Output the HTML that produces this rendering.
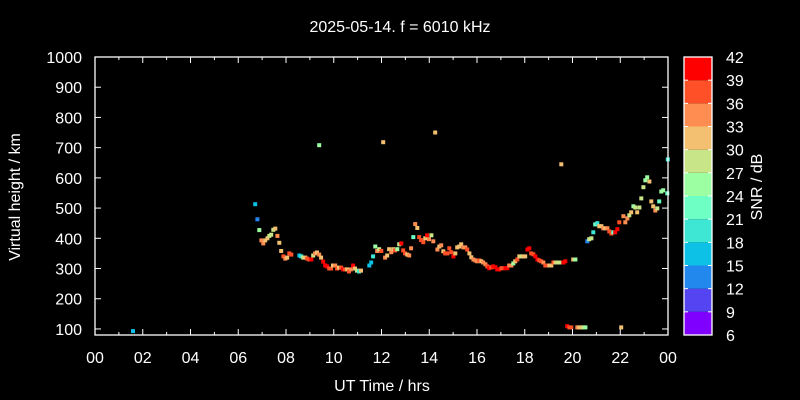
<!DOCTYPE html>
<html><head><meta charset="utf-8"><style>
html,body{margin:0;padding:0;background:#000;}
svg{display:block;font-family:"Liberation Sans",sans-serif;}
</style></head><body>
<svg id="chart" width="800" height="400" viewBox="0 0 800 400" xmlns="http://www.w3.org/2000/svg">
<rect width="800" height="400" fill="#000"/>
<text x="400" y="32" fill="#fff" font-size="16" text-anchor="middle">2025-05-14. f = 6010 kHz</text>
<g id="plot"></g>
<g id="axes"></g>
<g id="cbar"></g>
<text x="382" y="391" fill="#fff" font-size="16" text-anchor="middle">UT Time / hrs</text>
<text transform="translate(20,197) rotate(-90)" fill="#fff" font-size="16" text-anchor="middle">Virtual height / km</text>
<text transform="translate(762,187) rotate(-90)" fill="#fff" font-size="16" text-anchor="middle">SNR / dB</text>
</svg>
<script>
const times=[1.59,6.71,6.80,6.88,6.97,7.05,7.13,7.22,7.30,7.38,7.47,7.55,7.64,7.72,7.80,7.89,7.97,8.05,8.14,8.22,8.56,8.64,8.72,8.81,8.89,8.97,9.06,9.14,9.22,9.30,9.39,9.39,9.47,9.56,9.64,9.72,9.81,9.89,9.97,10.06,10.14,10.22,10.31,10.39,10.47,10.56,10.64,10.72,10.81,10.89,10.97,11.06,11.14,11.49,11.57,11.65,11.74,11.82,11.90,11.99,12.07,12.15,12.24,12.32,12.41,12.49,12.57,12.66,12.74,12.83,12.91,12.99,13.08,13.16,13.24,13.33,13.41,13.50,13.58,13.66,13.75,13.83,13.91,13.99,14.09,14.17,14.25,14.34,14.42,14.50,14.59,14.67,14.76,14.84,14.92,15.01,15.09,15.17,15.26,15.34,15.43,15.51,15.59,15.68,15.76,15.85,15.93,16.01,16.10,16.18,16.26,16.35,16.43,16.51,16.60,16.68,16.77,16.85,16.93,17.02,17.10,17.19,17.27,17.35,17.44,17.52,17.60,17.69,17.77,17.86,17.94,18.02,18.11,18.19,18.27,18.36,18.44,18.53,18.61,18.69,18.78,18.86,18.94,19.03,19.11,19.20,19.28,19.36,19.45,19.53,19.62,19.70,19.78,19.87,19.95,20.03,20.12,20.20,20.28,20.37,20.45,20.54,20.62,20.70,20.79,20.87,20.95,21.04,21.12,21.21,21.29,21.37,21.46,21.54,21.63,21.71,21.79,21.88,21.96,22.04,22.13,22.21,22.30,22.38,22.46,22.55,22.63,22.71,22.80,22.88,22.97,23.05,23.13,23.22,23.30,23.38,23.47,23.55,23.63,23.72,23.80,23.97,23.99];
const heights=[93,513,463,427,393,383,393,400,408,412,428,432,408,385,358,340,333,336,350,346,343,340,336,336,333,330,330,343,350,353,708,346,336,323,310,307,300,300,310,310,300,303,303,297,297,297,290,297,310,300,293,290,293,310,320,340,373,358,364,358,718,336,343,364,354,364,360,364,380,383,360,350,346,343,367,404,447,434,404,394,387,400,410,397,410,390,750,363,373,377,357,350,350,367,354,340,350,370,373,380,370,370,363,350,337,330,327,324,327,324,320,314,307,301,304,307,304,297,297,301,301,301,301,310,310,317,324,330,340,340,340,340,363,367,350,347,340,330,327,324,320,310,310,310,310,320,320,320,320,645,320,324,109,105,105,330,330,105,105,105,105,105,390,397,400,420,446,450,440,440,433,433,433,423,416,420,420,430,453,105,473,453,466,476,486,506,502,486,502,532,569,592,602,588,522,506,492,499,522,555,559,549,661];
const snr=[16,16,13,25,34,34,31,31,28,28,28,31,34,31,31,37,34,31,37,37,16,19,28,31,37,37,40,28,34,31,25,34,31,40,40,40,37,37,31,34,37,31,37,40,37,31,37,34,40,31,28,19,31,16,16,19,25,34,28,37,31,34,31,31,34,31,37,25,28,40,37,37,31,34,34,22,34,31,37,37,37,31,40,34,28,34,31,34,31,34,31,37,37,37,37,40,31,31,31,31,34,34,37,31,31,34,34,34,37,31,34,34,37,40,37,40,40,40,40,37,37,40,40,34,34,25,31,37,31,28,31,31,40,40,37,37,40,40,37,37,34,37,37,31,31,37,31,28,28,31,40,40,40,37,37,31,25,34,31,31,28,25,13,28,28,19,22,19,31,31,34,31,34,37,37,22,40,40,37,31,34,34,34,28,31,25,28,31,28,28,28,25,25,31,31,31,34,28,22,25,25,22,19];
const cbTicks=[6,9,12,15,18,21,24,27,30,33,36,39,42];
const bandColors=["#7f00ff","#5544f2","#2288ee","#0cc0e6","#3ee6d4","#6effc4","#9cffa2","#c8e688","#f2c070","#ff8c50","#ff5028","#ff0000"];
const yTicks=[100,200,300,400,500,600,700,800,900,1000];
const xTicks=[0,2,4,6,8,10,12,14,16,18,20,22,24];
const X0=95,X1=668,Y0=335,Y1=57;
const xs=t=>X0+(t/24)*(X1-X0);
const ys=h=>Y0-(h-80)/(1000-80)*(Y0-Y1);
const NS="http://www.w3.org/2000/svg";
function mk(tag,attrs,parent){const e=document.createElementNS(NS,tag);for(const k in attrs)e.setAttribute(k,attrs[k]);parent.appendChild(e);return e;}
const plot=document.getElementById('plot'),axes=document.getElementById('axes'),cbar=document.getElementById('cbar');
function colorFor(v){let i=Math.floor((v-6)/3);i=Math.max(0,Math.min(11,i));return bandColors[i];}
for(let i=0;i<times.length;i++){
  const r=mk('rect',{x:(xs(times[i])-2).toFixed(1),y:(ys(heights[i])-2).toFixed(1),width:4,height:4,fill:colorFor(snr[i])},plot);
  
  
}
const frame=mk('rect',{x:X0,y:Y1,width:X1-X0,height:Y0-Y1,fill:'none',stroke:'#fff','stroke-width':1.3},axes);


yTicks.forEach(v=>{
  const y=ys(v);
  mk('line',{x1:X0,x2:X0+6,y1:y,y2:y,stroke:'#fff'},axes);
  mk('line',{x1:X1,x2:X1-6,y1:y,y2:y,stroke:'#fff'},axes);
  const t=mk('text',{x:82,y:y+6,fill:'#fff','font-size':16,'text-anchor':'end'},axes);
  t.textContent=v;
  
  
});
for(let h=0;h<=24;h++){
  const x=xs(h),len=(h%2==0)?6:3;
  mk('line',{x1:x,x2:x,y1:Y0,y2:Y0-len,stroke:'#fff'},axes);
  mk('line',{x1:x,x2:x,y1:Y1,y2:Y1+len,stroke:'#fff'},axes);
}
xTicks.forEach(h=>{
  const t=mk('text',{x:xs(h),y:363,fill:'#fff','font-size':16,'text-anchor':'middle'},axes);
  t.textContent=String(h%24).padStart(2,'0');
  
  
});
const CX=684,CW=28,CY0=335,CY1=57;
const cy=v=>CY0-(v-6)/36*(CY0-CY1);
for(let i=0;i<12;i++){
  const r=mk('rect',{x:CX,y:cy(cbTicks[i+1]),width:CW,height:cy(cbTicks[i])-cy(cbTicks[i+1]),fill:bandColors[i]},cbar);
  
  
}
mk('rect',{x:CX,y:CY1,width:CW,height:CY0-CY1,fill:'none',stroke:'#fff','stroke-width':1.3},cbar);
cbTicks.forEach(v=>{
  const y=cy(v);
  mk('line',{x1:CX,x2:CX+4,y1:y,y2:y,stroke:'#fff'},cbar);
  mk('line',{x1:CX+CW,x2:CX+CW-4,y1:y,y2:y,stroke:'#fff'},cbar);
  const t=mk('text',{x:726,y:y+6,fill:'#fff','font-size':16},cbar);
  t.textContent=v;
  
  
});
</script>
</body></html>
